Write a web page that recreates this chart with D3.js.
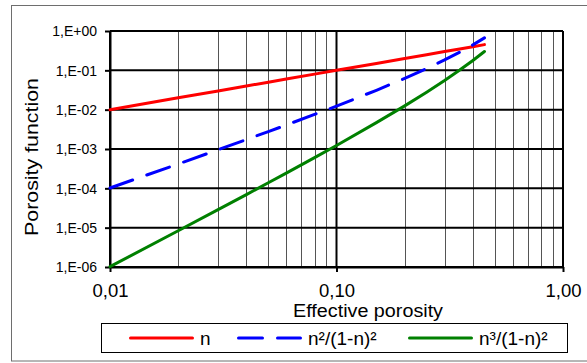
<!DOCTYPE html>
<html>
<head>
<meta charset="utf-8">
<script src="https://cdn.jsdelivr.net/npm/d3@7/dist/d3.min.js"></script>
<style>
  html, body { margin: 0; padding: 0; background: #fff; }
  svg { display: block; font-family: "Liberation Sans", Arial, sans-serif; }
</style>
</head>
<body>
<svg id="chart" width="587" height="363"></svg>
<script>
// Effective porosity n and the three porosity functions
const porosity = [0.01, 0.02, 0.03, 0.04, 0.05, 0.06, 0.08, 0.10, 0.15, 0.20, 0.25, 0.30, 0.35, 0.40, 0.45];
const seriesN  = [0.01, 0.02, 0.03, 0.04, 0.05, 0.06, 0.08, 0.10, 0.15, 0.20, 0.25, 0.30, 0.35, 0.40, 0.45];
const seriesN2 = [1.02e-4, 4.16e-4, 9.57e-4, 1.74e-3, 2.77e-3, 4.07e-3, 7.56e-3, 1.23e-2, 3.11e-2, 6.25e-2, 0.111, 0.184, 0.290, 0.444, 0.669];
const seriesN3 = [1.02e-6, 8.33e-6, 2.87e-5, 6.94e-5, 1.39e-4, 2.44e-4, 6.05e-4, 1.23e-3, 4.67e-3, 1.25e-2, 2.78e-2, 5.51e-2, 0.1015, 0.178, 0.301];

const seriesNames = ["n", "n²/(1-n)²", "n³/(1-n)²"];

const yTickValues = [1e-6, 1e-5, 1e-4, 1e-3, 1e-2, 1e-1, 1];
const yTickLabels = ["1,E-06", "1,E-05", "1,E-04", "1,E-03", "1,E-02", "1,E-01", "1,E+00"];
const xTickValues = [0.01, 0.1, 1];
const xTickLabels = ["0,01", "0,10", "1,00"];

const svg = d3.select("#chart");

const plot = { left: 110, right: 563, top: 31, bottom: 267 };

const x = d3.scaleLog().domain([0.01, 1]).range([plot.left, plot.right]);
const y = d3.scaleLog().domain([1e-6, 1]).range([plot.bottom, plot.top]);

// outer chart frame
svg.append("rect")
  .attr("x", 11.5).attr("y", 5.5)
  .attr("width", 620).attr("height", 355.5)
  .attr("fill", "none").attr("stroke", "#6e6e6e").attr("stroke-width", 1);

// minor vertical gridlines (2..9 in each decade)
const minor = x.ticks().filter(v => xTickValues.indexOf(v) < 0 && Math.abs(Math.log10(v) - Math.round(Math.log10(v))) > 1e-9);
svg.append("g").selectAll("line").data(minor).join("line")
  .attr("x1", d => Math.round(x(d)) + 0.5).attr("x2", d => Math.round(x(d)) + 0.5)
  .attr("y1", plot.top).attr("y2", plot.bottom)
  .attr("stroke", "#555").attr("stroke-width", 1);

// major gridlines
svg.append("g").selectAll("line").data(yTickValues).join("line")
  .attr("x1", plot.left).attr("x2", plot.right)
  .attr("y1", d => y(d)).attr("y2", d => y(d))
  .attr("stroke", "#000").attr("stroke-width", 2);
svg.append("g").selectAll("line").data(xTickValues).join("line")
  .attr("x1", d => x(d)).attr("x2", d => x(d))
  .attr("y1", plot.top).attr("y2", plot.bottom)
  .attr("stroke", "#000").attr("stroke-width", 2);

// axes
const yAxis = d3.axisLeft(y).tickValues(yTickValues)
  .tickFormat((d, i) => yTickLabels[i]).tickSize(5).tickSizeOuter(0);
const gy = svg.append("g").attr("transform", `translate(${plot.left},0)`).call(yAxis);
gy.select(".domain").attr("stroke", "#000").attr("stroke-width", 2);
gy.selectAll(".tick line").attr("stroke", "#000").attr("stroke-width", 2);
gy.selectAll(".tick text")
  .attr("x", -13).attr("dy", "0.35em")
  .attr("font-family", "Liberation Sans, Arial, sans-serif")
  .attr("font-size", 14).attr("fill", "#000");

const xAxis = d3.axisBottom(x).tickValues(xTickValues)
  .tickFormat((d, i) => xTickLabels[i]).tickSize(5).tickSizeOuter(0);
const gx = svg.append("g").attr("transform", `translate(0,${plot.bottom})`).call(xAxis);
gx.select(".domain").attr("stroke", "#000").attr("stroke-width", 2);
gx.selectAll(".tick line").attr("stroke", "#000").attr("stroke-width", 2);
gx.selectAll(".tick text")
  .attr("y", 30).attr("dy", 0)
  .attr("font-family", "Liberation Sans, Arial, sans-serif")
  .attr("font-size", 18.5).attr("fill", "#000");

// data lines
const colors = ["#ff0000", "#0000ff", "#008000"];
const dashes = [null, "24,15", null];
const allSeries = [seriesN, seriesN2, seriesN3];
const line = d3.line().x(d => x(d[0])).y(d => y(d[1]));
allSeries.forEach((vals, k) => {
  svg.append("path")
    .datum(porosity.map((p, i) => [p, vals[i]]))
    .attr("d", line)
    .attr("fill", "none")
    .attr("stroke", colors[k])
    .attr("stroke-width", 3)
    .attr("stroke-linecap", "round")
    .attr("stroke-dasharray", dashes[k]);
});

// axis titles
svg.append("text")
  .attr("x", 293).attr("y", 316.5)
  .attr("font-size", 18).attr("textLength", 150).attr("lengthAdjust", "spacingAndGlyphs")
  .text("Effective porosity");
svg.append("text")
  .attr("transform", "translate(38,236) rotate(-90)")
  .attr("x", 0).attr("y", 0)
  .attr("font-size", 19).attr("textLength", 158).attr("lengthAdjust", "spacingAndGlyphs")
  .text("Porosity function");

// legend
const legend = svg.append("g");
legend.append("rect")
  .attr("x", 101.5).attr("y", 323.5).attr("width", 466).attr("height", 29)
  .attr("fill", "#fff").attr("stroke", "#000").attr("stroke-width", 1);
const legendX = [129, 237, 408];
seriesNames.forEach((name, k) => {
  legend.append("line")
    .attr("x1", legendX[k] + 1.5).attr("x2", legendX[k] + 63.5)
    .attr("y1", 338).attr("y2", 338)
    .attr("stroke", colors[k]).attr("stroke-width", 3)
    .attr("stroke-linecap", "round")
    .attr("stroke-dasharray", dashes[k]);
  legend.append("text")
    .attr("x", legendX[k] + 71).attr("y", 345)
    .attr("font-size", 19)
    .text(name);
});
</script>
</body>
</html>
